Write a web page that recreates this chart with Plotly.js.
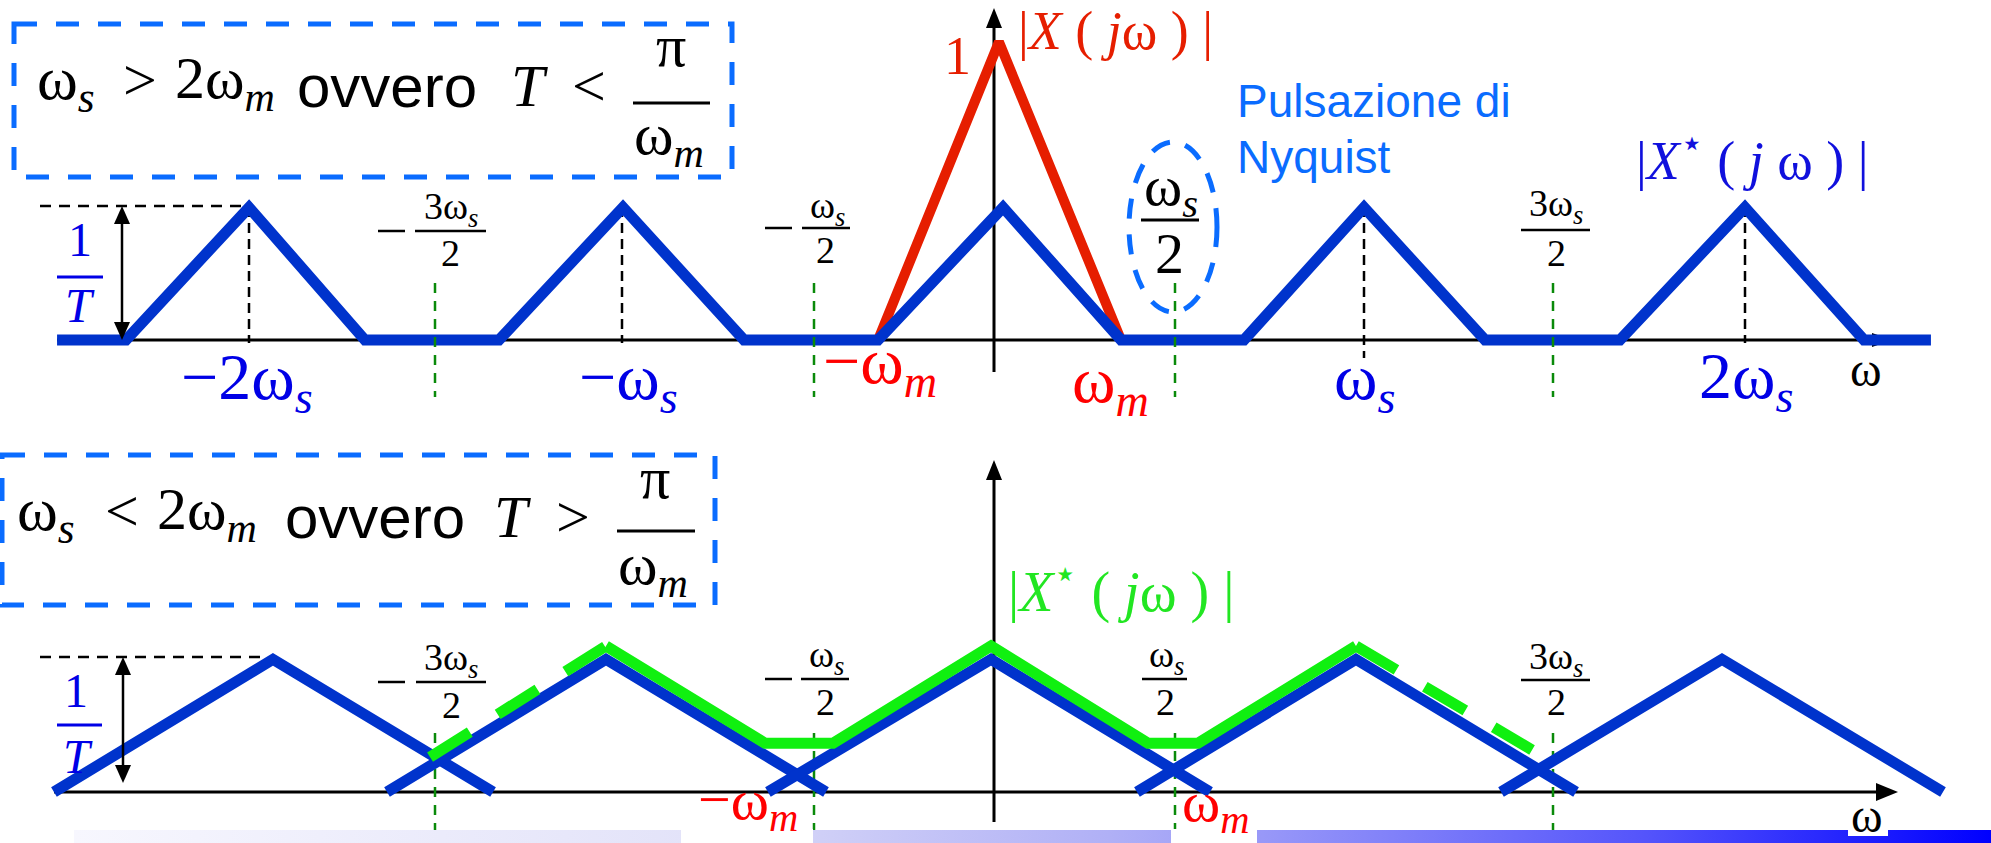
<!DOCTYPE html>
<html><head><meta charset="utf-8">
<script src="https://cdn.plot.ly/plotly-3.0.1.min.js"></script>
<style>html,body{margin:0;padding:0;background:#fff;}#chart{width:1991px;height:843px;}</style>
</head><body><div id="chart"></div>
<script>
// ---------------- data (omega in units of top-panel omega_m, magnitude in units of max|X|) ----------------
const topSampledOmega = [-7.556,-7.0,-6.008,-5.073,-3.992,-2.992,-2.016,-0.935,0.073,1.024,2.016,2.984,3.960,5.048,6.056,7.016,7.556];
const topSampledMag   = [0,0,0.445,0,0,0.445,0,0,0.445,0,0,0.445,0,0,0.445,0,0];
const topOriginalOmega = [-0.935,0.04,1.024];
const topOriginalMag   = [0,1,0];
const bottomCopiesOmega = [-7.581,-5.815,-4.040,null,-4.895,-3.129,-1.355,null,-1.823,-0.024,1.742,null,1.153,2.919,4.694,null,4.089,5.871,7.653];
const bottomCopiesMag   = [0,0.445,0,null,0,0.445,0,null,0,0.445,0,null,0,0.445,0,null,0,0.445,0];
const aliasLeftOmega  = [-4.548,-3.129];
const aliasLeftMag    = [0.117,0.49];
const aliasMidOmega   = [-3.129,-1.847,-1.298,-0.024,1.242,1.645,2.919];
const aliasMidMag     = [0.49,0.164,0.164,0.49,0.164,0.164,0.49];
const aliasRightOmega = [2.919,4.339];
const aliasRightMag   = [0.49,0.141];

// ---------------- geometry / style ----------------
const W=1991,H=843;
const X0=994, XU=124;           // pixel of omega=0, pixels per unit
const YU=298, BASE_T=340, BASE_B=792;
const PX=p=>p/W, PY=p=>1-p/H;
const DX=p=>(p-X0)/XU;
const SERIF='Liberation Serif, Times New Roman, serif';
const SANS='Liberation Sans, Arial, sans-serif';
const BLUE='#0033cc', RED='#e61e00', GREEN='#10f010';
const LBLUE='#0000e6', LRED='#ff0000', NBLUE='#0a6cff', GGUIDE='#0a8a0a';

const traces=[
 {x:[DX(74),DX(1991),DX(1991),DX(74),DX(74)], y:[(BASE_B-830)/YU,(BASE_B-830)/YU,(BASE_B-843)/YU,(BASE_B-843)/YU,(BASE_B-830)/YU],
  xaxis:'x', yaxis:'y2', mode:'lines', line:{width:0}, fill:'toself', hoverinfo:'skip',
  fillgradient:{type:'horizontal', colorscale:[[0,'#f7f7fe'],[0.32,'#e3e3f9'],[0.39,'#cfcff7'],[0.54,'#b0b0f6'],[0.62,'#9898f8'],[0.82,'#5454fb'],[1,'#0000ff']]}},
 {x:topOriginalOmega, y:topOriginalMag, xaxis:'x', yaxis:'y', mode:'lines', line:{color:RED,width:10}},
 {x:topSampledOmega, y:topSampledMag, xaxis:'x', yaxis:'y', mode:'lines', line:{color:BLUE,width:11}},
 {x:bottomCopiesOmega, y:bottomCopiesMag, xaxis:'x', yaxis:'y2', mode:'lines', line:{color:BLUE,width:11}, connectgaps:false},
 {x:aliasLeftOmega, y:aliasLeftMag, xaxis:'x', yaxis:'y2', mode:'lines', line:{color:GREEN,width:11,dash:'47px,33px'}},
 {x:aliasMidOmega, y:aliasMidMag, xaxis:'x', yaxis:'y2', mode:'lines', line:{color:GREEN,width:11}},
 {x:aliasRightOmega, y:aliasRightMag, xaxis:'x', yaxis:'y2', mode:'lines', line:{color:GREEN,width:11,dash:'47px,33px'}}
];

const shapes=[];
function ln(x0,y0,x1,y1,color,width,dash,layer){shapes.push({type:'line',xref:'paper',yref:'paper',x0:PX(x0),y0:PY(y0),x1:PX(x1),y1:PY(y1),line:{color,width,dash:dash||'solid'},layer:layer||'above'});}
function tri(tx,ty,dir,len,half,layer){
  let p;
  if(dir==='up') p=[[tx,ty],[tx-half,ty+len],[tx+half,ty+len]];
  else if(dir==='down') p=[[tx,ty],[tx-half,ty-len],[tx+half,ty-len]];
  else p=[[tx,ty],[tx-len,ty-half],[tx-len,ty+half]];
  const path='M'+p.map(q=>PX(q[0])+','+PY(q[1])).join(' L')+' Z';
  shapes.push({type:'path',xref:'paper',yref:'paper',path,fillcolor:'#000',line:{width:0},layer:layer||'above'});
}
function box(x0,y0,x1,y1){shapes.push({type:'rect',xref:'paper',yref:'paper',x0:PX(x0),y0:PY(y0),x1:PX(x1),y1:PY(y1),line:{color:NBLUE,width:5,dash:'23px,19px'},fillcolor:'rgba(0,0,0,0)'});}

// axes (below traces)
ln(57,BASE_T,1880,BASE_T,'#000',3,null,'below'); tri(1892,BASE_T,'right',20,7,'below');
ln(994,372,994,24,'#000',3,null,'below'); tri(994,8,'up',20,8,'below');
ln(54,BASE_B,1885,BASE_B,'#000',3,null,'below'); tri(1898,BASE_B,'right',22,9,'below');
ln(994,822,994,474,'#000',3,null,'below'); tri(994,460,'up',20,8,'below');
// black dashed guides
[[249,343],[622,343],[1364,358],[1745,343]].forEach(a=>ln(a[0],207,a[0],a[1],'#000',2.5,'10px,6px','below'));
ln(40,206,249,206,'#000',2.5,'11px,8px','below');
ln(40,657,268,657,'#000',2.5,'11px,8px','below');
// 1/T double arrows
ln(122,222,122,324,'#000',2.5); tri(122,206,'up',18,8); tri(122,340,'down',18,8);
ln(123,673,123,767,'#000',2.5); tri(123,657,'up',18,8); tri(123,783,'down',18,8);
// green dashed guides
[435,814,1175,1553].forEach(x=>{ln(x,283,x,397,GGUIDE,2.5,'10px,8px','above'); ln(x,733,x,843,GGUIDE,2.5,'10px,8px','below');});
// white gaps in bottom band
[[681,813],[1171,1257]].forEach(g=>shapes.push({type:'rect',xref:'paper',yref:'paper',x0:PX(g[0]),x1:PX(g[1]),y0:PY(843),y1:PY(829),fillcolor:'#fff',line:{width:0},layer:'above'}));
shapes.push({type:'rect',xref:'paper',yref:'paper',x0:PX(1848),x1:PX(1888),y0:PY(836),y1:PY(829),fillcolor:'#fff',line:{width:0},layer:'above'});
// boxes and ellipse
box(14,24,732,177); box(2,455,715,605);
shapes.push({type:'circle',xref:'paper',yref:'paper',x0:PX(1129),x1:PX(1217),y0:PY(142),y1:PY(312),line:{color:NBLUE,width:5,dash:'20px,16px'}});
// fraction lines
ln(633,103,710,103,'#000',3); ln(617,531,695,531,'#000',3);
ln(57,277,103,277,LBLUE,3); ln(57,725,102,725,LBLUE,3);
ln(378,231,405,231,'#000',2.5); ln(415,231,486,231,'#000',2.5);
ln(765,228,792,228,'#000',2.5); ln(802,228,850,228,'#000',2.5);
ln(1141,220,1199,220,'#000',3);
ln(1521,230,1590,230,'#000',2.5);
ln(378,682,405,682,'#000',2.5); ln(416,682,486,682,'#000',2.5);
ln(765,679,792,679,'#000',2.5); ln(801,679,849,679,'#000',2.5);
ln(1142,679,1187,679,'#000',2.5);
ln(1521,680,1590,680,'#000',2.5);

const ann=[];
function t(text,x,y,size,color,family,xanchor){ann.push({xref:'paper',yref:'paper',x:PX(x),y:PY(y),text,showarrow:false,xanchor:xanchor||'center',yanchor:'middle',borderpad:0,font:{family:family||SERIF,size,color:color||'#000'}});}
const ws='ω<sub><i>s</i></sub>', wm='ω<sub><i>m</i></sub>';
// box 1
t(ws,36,82,62,'#000',SERIF,'left'); t('>',140,80,60); t('2'+wm,174,82,60,'#000',SERIF,'left');
t('ovvero',296,86,60,'#000',SANS,'left'); t('<i>T</i>',510,86,60,'#000',SERIF,'left'); t('<',589,86,60);
t('π',671,46,60); t(wm,633,138,60,'#000',SERIF,'left');
// box 2
t(ws,16,513,62,'#000',SERIF,'left'); t('<',122,511,60); t('2'+wm,156,513,60,'#000',SERIF,'left');
t('ovvero',284,517,60,'#000',SANS,'left'); t('<i>T</i>',493,517,60,'#000',SERIF,'left'); t('>',573,517,60);
t('π',655,478,60); t(wm,617,568,60,'#000',SERIF,'left');
// top labels
t('1',957,56,54,RED); t('|<i>X</i> ( <i>j</i>ω ) |',1115,31,54,RED);
t('Pulsazione di',1236,101,46,NBLUE,SANS,'left'); t('Nyquist',1236,157,46,NBLUE,SANS,'left');
t('|<i>X</i><sup>⋆</sup> ( <i>j</i> ω ) |',1752,157,54,'#1010dd');
t('1',80,240,48,LBLUE); t('<i>T</i>',80,306,48,LBLUE);
t('−2'+ws,247,381,66,LBLUE); t('−'+ws,628,381,66,LBLUE); t(ws,1364,381,66,LBLUE); t('2'+ws,1746,380,66,LBLUE);
t('−'+wm,880,366,66,LRED); t(wm,1110,384,66,LRED);
t('ω',1866,370,48,'#000');
t('3'+ws,451,209,38); t('2',450,253,38);
t(ws,827,208,38); t('2',825,250,38);
t(ws,1171,190,58); t('2',1169,254,58);
t('3'+ws,1556,206,38); t('2',1556,253,38);
// bottom labels
t('1',76,690,48,LBLUE); t('<i>T</i>',78,756,48,LBLUE);
t('|<i>X</i><sup>⋆</sup> ( <i>j</i>ω ) |',1121,588,56,'#22e622');
t('3'+ws,451,660,38); t('2',451,705,38);
t(ws,826,657,38); t('2',825,702,38);
t(ws,1166,657,38); t('2',1165,702,38);
t('3'+ws,1556,659,38); t('2',1556,702,38);
t('−'+wm,748,803,58,LRED); t(wm,1216,805,58,LRED);
t('ω',1867,815,48,'#000');

const layout={width:W,height:H,margin:{l:0,r:0,t:0,b:0,pad:0},showlegend:false,
 paper_bgcolor:'#fff',plot_bgcolor:'#fff',
 xaxis:{range:[-X0/XU,(W-X0)/XU],visible:false,fixedrange:true},
 yaxis:{range:[-(H-BASE_T)/YU,BASE_T/YU],visible:false,domain:[0,1],fixedrange:true},
 yaxis2:{range:[-(H-BASE_B)/YU,BASE_B/YU],visible:false,overlaying:'y',fixedrange:true},
 shapes,annotations:ann};
Plotly.newPlot('chart',traces,layout,{staticPlot:true,displayModeBar:false});
</script></body></html>
